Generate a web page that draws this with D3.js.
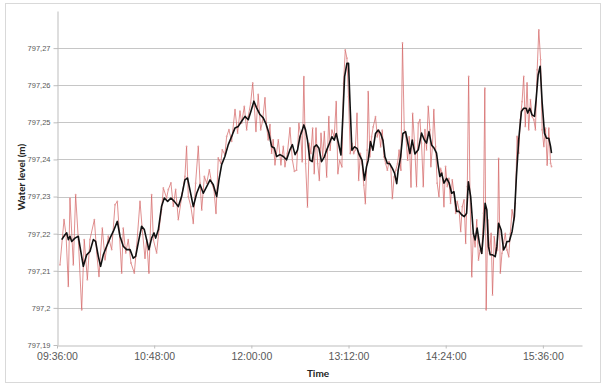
<!DOCTYPE html>
<html><head><meta charset="utf-8">
<script src="https://cdn.jsdelivr.net/npm/d3@7"></script>
<style>
html,body{margin:0;padding:0;background:#fff;}
svg{display:block;font-family:Lato,"Open Sans",sans-serif;}
</style></head>
<body><svg id="c" width="603" height="386"></svg>
<script>
// ---- data ----
const startTime = "09:36:00";
const endOffsetMin = 389;
const xTickLabels = ["09:36:00","10:48:00","12:00:00","13:12:00","14:24:00","15:36:00"];
const yTicks = [797.19,797.20,797.21,797.22,797.23,797.24,797.25,797.26,797.27];
const yTickLabels = ["797,19","797,2","797,21","797,22","797,23","797,24","797,25","797,26","797,27"];
const xTitle = "Time";
const yTitle = "Water level (m)";

// raw measurements: minutes after start, water level (m)
const rawMinutes = [2.2,5.2,6.7,8.4,9.6,12.1,13.8,15.8,18.3,20.2,22.5,24.4,27.7,29.4,31.1,33.6,35.6,38.0,40.5,43.0,44.7,46.2,47.9,49.1,50.9,52.8,54.8,57.3,59.0,61.5,63.2,65.2,66.4,68.1,70.1,71.4,73.8,75.6,77.5,78.8,81.2,82.5,84.4,86.2,87.9,
89.9,92.8,94.8,96.0,97.3,99.2,101.0,102.7,104.7,106.0,107.2,109.2,110.9,112.9,114.6,116.3,117.8,119.5,121.3,122.5,124.4,125.7,127.4,129.4,131.9,133.8,135.6,136.8,138.8,140.5,141.7,143.5,145.0,146.2,147.4,149.1,150.9,152.3,154.1,155.3,156.5,157.8,159.0,160.2,161.5,164.0,165.9,167.7,168.9,170.7,172.6,174.4,175.9,
177.5,179.2,180.7,181.7,182.9,184.2,185.6,186.9,188.1,189.4,190.6,191.9,193.1,194.4,195.6,196.9,198.1,199.8,201.4,202.4,203.7,205.4,206.9,208.1,209.4,211.1,212.3,213.6,214.8,216.0,217.3,218.5,219.8,221.0,222.3,223.5,224.8,226.0,227.3,228.5,229.8,230.6,231.8,233.1,234.3,236.0,237.3,238.5,239.8,241.0,242.3,243.5,244.8,246.0,247.3,248.5,249.8,251.0,252.3,253.5,254.8,256.0,257.3,258.5,259.8,261.0,262.3,263.5,264.8,
266.4,267.7,268.9,270.1,271.4,272.6,273.8,275.1,276.3,277.0,278.2,279.2,280.5,281.7,283.0,284.2,285.5,286.7,287.9,289.2,290.4,291.6,292.9,294.1,295.4,296.6,297.9,299.1,300.3,301.6,302.8,304.0,305.0,306.0,307.3,308.5,309.8,311.0,312.3,313.5,314.7,316.0,317.0,318.0,319.2,320.5,321.7,322.7,324.0,325.2,326.4,327.2,328.5,329.7,330.9,332.2,333.4,334.7,335.9,337.2,338.4,339.6,340.9,342.1,343.3,344.6,345.8,347.0,348.3,349.5,350.8,352.0,353.3,354.5,355.8,357.0,358.3,359.5,360.7,362.0,363.2,364.4,365.7,366.4];
const rawLevel = [797.2116,797.2238,797.2197,797.2058,797.2296,797.2116,797.2305,797.2184,797.1995,797.2184,797.2076,797.2184,797.2238,797.2148,797.2085,797.2215,797.2130,797.2193,797.2157,797.2278,797.2287,797.2202,797.2094,797.2215,797.2148,797.2184,797.2121,797.2094,797.2166,797.2287,797.2211,797.2134,797.2184,797.2094,797.2305,797.2184,797.2148,797.2211,797.2265,797.2323,797.2296,797.2319,797.2337,797.2274,797.2319,
797.2238,797.2309,797.2354,797.2435,797.2300,797.2273,797.2228,797.2336,797.2435,797.2336,797.2264,797.2354,797.2336,797.2372,797.2336,797.2318,797.2255,797.2404,797.2390,797.2426,797.2413,797.2462,797.2480,797.2449,797.2534,797.2471,797.2530,797.2498,797.2543,797.2480,797.2516,797.2552,797.2606,797.2543,797.2476,797.2575,797.2480,797.2503,797.2566,797.2489,797.2453,797.2494,797.2417,797.2453,797.2386,797.2453,797.2386,797.2435,797.2381,797.2417,797.2485,797.2399,797.2368,
797.2371,797.2497,797.2461,797.2394,797.2623,797.2389,797.2272,797.2443,797.2416,797.2484,797.2362,797.2484,797.2389,797.2344,797.2470,797.2407,797.2475,797.2353,797.2515,797.2425,797.2479,797.2461,797.2556,797.2362,797.2398,797.2380,797.2605,797.2695,797.2673,797.2569,797.2416,797.2443,797.2416,797.2425,797.2524,797.2344,797.2416,797.2389,797.2331,797.2281,797.2425,797.2583,797.2407,797.2461,797.2488,797.2515,797.2461,797.2479,797.2434,797.2479,797.2407,797.2389,797.2371,797.2394,797.2380,797.2295,797.2353,797.2371,797.2389,797.2425,797.2371,797.2714,797.2479,797.2461,797.2398,797.2461,797.2326,797.2524,797.2452,
797.2327,797.2498,797.2507,797.2444,797.2327,797.2480,797.2426,797.2543,797.2480,797.2381,797.2435,797.2534,797.2435,797.2336,797.2300,797.2376,797.2363,797.2273,797.2381,797.2327,797.2349,797.2282,797.2345,797.2309,797.2255,797.2287,797.2264,797.2206,797.2273,797.2291,797.2174,797.2327,797.2624,797.2309,797.2084,797.2201,797.2165,797.2237,797.2129,797.2156,797.2147,797.2255,797.2592,797.1995,797.2237,797.2147,797.2201,797.2035,797.2192,797.2147,797.2156,797.2403,797.2094,797.2147,797.2174,797.2201,797.2156,797.2138,797.2201,797.2264,797.2237,797.2282,797.2462,797.2417,797.2507,797.2556,797.2624,797.2489,797.2606,797.2480,797.2561,797.2516,797.2507,797.2480,797.2642,797.2749,797.2669,797.2480,797.2435,797.2484,797.2385,797.2484,797.2390,797.2381];

// moving-average trend line
const smoothMinutes = [3.5,5.9,7.2,8.4,9.6,10.9,13.3,15.8,17.0,19.5,22.0,24.4,26.9,28.6,30.6,32.3,34.3,36.8,39.3,41.7,44.7,46.7,49.1,51.6,54.1,56.5,58.3,60.2,62.7,64.7,66.4,68.1,70.1,71.9,73.1,75.1,77.5,79.5,82.0,84.4,86.9,
89.9,92.3,94.8,96.7,98.5,101.0,103.5,106.0,108.4,110.9,113.4,115.8,118.3,120.0,122.0,124.4,126.9,129.4,131.9,134.3,136.8,139.3,141.7,143.7,145.9,147.9,150.4,152.8,154.6,157.0,159.0,161.0,162.7,165.2,167.7,170.1,172.6,174.4,176.4,
178.2,180.0,181.7,182.9,184.2,185.6,187.4,189.1,190.6,192.3,194.1,196.0,198.1,199.8,201.8,203.7,205.4,206.9,208.6,210.4,211.9,213.1,214.8,216.0,217.3,218.5,220.5,222.3,224.0,226.0,227.8,229.3,230.6,232.3,234.1,236.0,238.0,239.8,241.5,243.0,244.8,246.5,248.5,250.2,251.7,252.8,254.6,256.3,258.3,260.0,261.5,263.2,
265.2,267.7,270.1,272.1,273.8,275.6,277.5,279.5,281.2,282.5,283.7,285.0,286.7,288.7,290.6,292.4,294.1,296.1,297.9,299.8,301.8,303.5,304.8,306.5,308.5,309.8,311.3,313.0,314.7,316.0,317.2,318.5,319.7,321.0,322.7,324.7,325.9,327.2,329.1,330.9,332.2,333.4,335.1,337.2,338.9,340.4,342.1,344.1,345.8,347.6,348.8,350.3,352.0,353.8,355.0,356.5,358.0,359.5,361.2,362.7,364.4,365.7,366.4];
const smoothLevel = [797.2184,797.2197,797.2202,797.2184,797.2193,797.2179,797.2188,797.2193,797.2166,797.2112,797.2143,797.2152,797.2184,797.2179,797.2139,797.2112,797.2143,797.2166,797.2188,797.2206,797.2233,797.2193,797.2166,797.2157,797.2157,797.2134,797.2139,797.2175,797.2220,797.2211,797.2184,797.2157,797.2188,797.2202,797.2188,797.2211,797.2274,797.2296,797.2287,797.2296,797.2287,
797.2273,797.2300,797.2345,797.2350,797.2318,797.2273,797.2309,797.2332,797.2309,797.2327,797.2345,797.2332,797.2300,797.2345,797.2386,797.2408,797.2440,797.2462,797.2485,797.2489,797.2503,797.2516,797.2507,797.2530,797.2557,797.2539,797.2521,797.2512,797.2498,797.2471,797.2435,797.2431,797.2408,797.2413,797.2408,797.2399,797.2426,797.2440,797.2413,
797.2425,797.2461,797.2479,797.2493,797.2479,797.2452,797.2398,797.2394,797.2434,797.2439,797.2430,797.2394,797.2407,797.2425,797.2443,797.2461,797.2452,797.2470,797.2443,797.2412,797.2524,797.2623,797.2659,797.2659,797.2533,797.2425,797.2434,797.2430,797.2412,797.2398,797.2344,797.2380,797.2398,797.2448,797.2425,797.2470,797.2479,797.2470,797.2452,797.2407,797.2389,797.2389,797.2376,797.2362,797.2335,797.2371,797.2407,797.2470,797.2475,797.2443,797.2416,797.2452,
797.2415,797.2426,797.2471,797.2453,797.2444,797.2475,797.2439,797.2430,797.2417,797.2381,797.2354,797.2363,797.2336,797.2349,797.2336,797.2309,797.2313,797.2260,797.2260,797.2251,797.2246,797.2255,797.2340,797.2300,797.2201,797.2183,797.2215,797.2174,797.2147,797.2201,797.2282,797.2264,797.2165,797.2143,797.2143,797.2138,797.2165,797.2228,797.2210,797.2156,797.2165,797.2179,797.2179,797.2206,797.2246,797.2354,797.2453,797.2529,797.2538,797.2538,797.2525,797.2538,797.2520,797.2516,797.2561,797.2628,797.2651,797.2552,797.2471,797.2457,797.2457,797.2435,797.2417];

// ---- drawing ----
const svg = d3.select("#c");
const parse = d3.timeParse("%H:%M:%S");
const t0 = parse(startTime);
const at = m => new Date(t0.getTime() + m * 60000);

const x = d3.scaleTime().domain([t0, at(endOffsetMin)]).range([57, 582]);
const y = d3.scaleLinear().domain([797.19, 797.28]).range([345, 11]);

// chart border
svg.append("rect").attr("x",5.5).attr("y",3.5).attr("width",595).attr("height",379)
  .attr("fill","#fff").attr("stroke","#d9d9d9").attr("stroke-width",1);

// gridlines
svg.append("g").selectAll("line").data(yTicks.slice(1)).join("line")
  .attr("x1",57).attr("x2",582)
  .attr("y1",d=>Math.round(y(d))+0.5).attr("y2",d=>Math.round(y(d))+0.5)
  .attr("stroke","#c6c6c6").attr("stroke-width",1);

// axes
const yAxis = d3.axisLeft(y).tickValues(yTicks).tickFormat((d,i)=>yTickLabels[i]).tickSizeInner(4).tickSizeOuter(0).tickPadding(3);
const gy = svg.append("g").attr("transform","translate(57.5,0)").call(yAxis);
gy.selectAll("path,line").attr("stroke","#bdbdbd");
gy.selectAll("text").attr("font-size","7.5px").attr("fill","#595959");

const xAxis = d3.axisBottom(x).tickValues(xTickLabels.map(parse)).tickFormat(d3.timeFormat("%H:%M:%S")).tickSizeInner(3).tickSizeOuter(0).tickPadding(4);
const gx = svg.append("g").attr("transform","translate(0,345.5)").call(xAxis);
gx.selectAll("path,line").attr("stroke","#bdbdbd");
gx.selectAll("text").attr("font-size","10.5px").attr("fill","#595959");

// series
const raw = rawMinutes.map((m,i)=>({t:at(m), v:rawLevel[i]}));
const smooth = smoothMinutes.map((m,i)=>({t:at(m), v:smoothLevel[i]}));
const line = d3.line().x(d=>x(d.t)).y(d=>y(d.v));

svg.append("path").datum(raw).attr("d",line)
  .attr("fill","none").attr("stroke","#d46464").attr("stroke-width",0.8).attr("stroke-opacity",0.9);
svg.append("g").selectAll("circle").data(raw).join("circle")
  .attr("cx",d=>x(d.t)).attr("cy",d=>y(d.v)).attr("r",0.9)
  .attr("fill","#e3a0a0");
svg.append("path").datum(smooth).attr("d",line)
  .attr("fill","none").attr("stroke","#111").attr("stroke-width",1.6).attr("stroke-linejoin","round");

// titles
svg.append("text").attr("x",318).attr("y",376.5).attr("text-anchor","middle")
  .attr("font-size","10px").attr("font-weight","bold").attr("fill","#222").text(xTitle);
svg.append("text").attr("transform","translate(25,177) rotate(-90)").attr("text-anchor","middle")
  .attr("font-size","10px").attr("font-weight","bold").attr("fill","#222").text(yTitle);
</script></body></html>
